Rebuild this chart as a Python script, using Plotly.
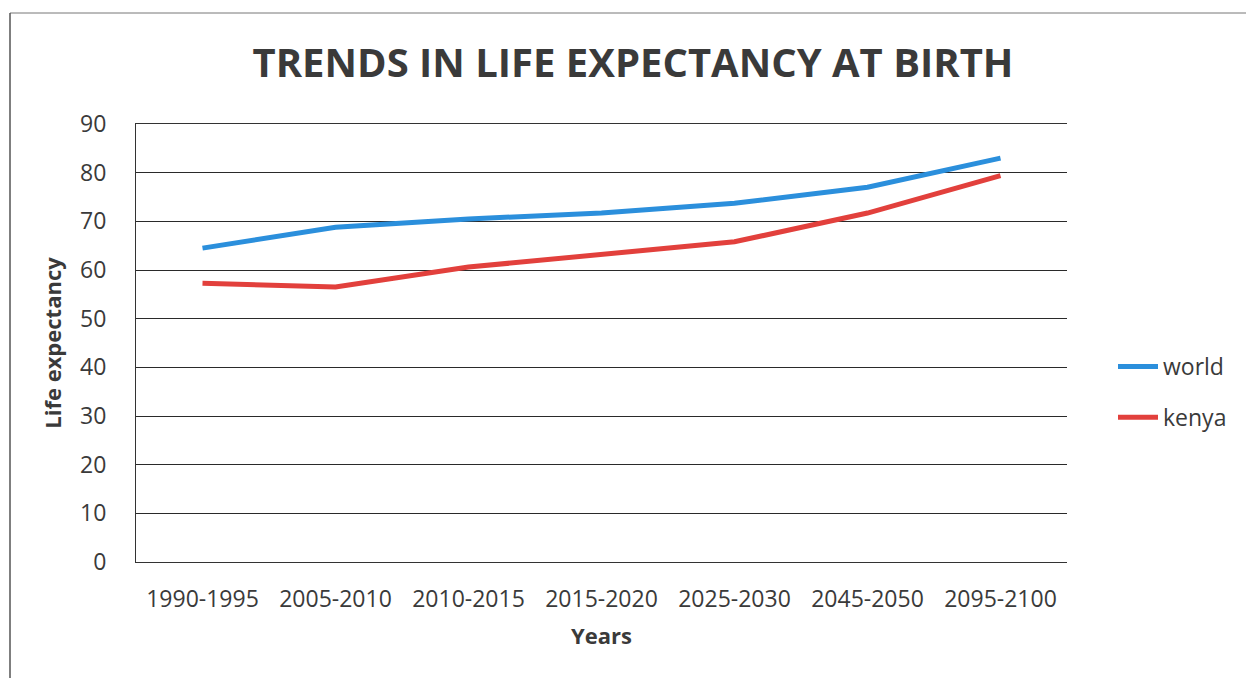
import plotly.graph_objects as go

categories = ["1990-1995", "2005-2010", "2010-2015", "2015-2020", "2025-2030", "2045-2050", "2095-2100"]
world = [64.5, 68.8, 70.5, 71.7, 73.7, 77.0, 83.0]
kenya = [57.3, 56.5, 60.6, 63.2, 65.8, 71.7, 79.4]

W, H = 1246, 678
L, R, T, B = 136, 179, 124, 116
FONT = "Open Sans, Lato, sans-serif"
TXT = "#3a3a3a"

fig = go.Figure()
fig.add_trace(go.Scatter(x=categories, y=world, name="world", mode="lines", legendgroup="w",
                         line=dict(color="#2b8fdc", width=5)))
fig.add_trace(go.Scatter(x=categories, y=kenya, name="kenya", mode="lines", legendgroup="k",
                         line=dict(color="#e2403c", width=5)))

def px_x(p):
    return (p - L) / (W - L - R)

def px_y(p):
    return (H - B - p) / (H - T - B)

fig.update_layout(
    width=W, height=H,
    margin=dict(l=L, r=R, t=T, b=B),
    paper_bgcolor="white", plot_bgcolor="white",
    font=dict(family=FONT, color=TXT, size=23),
    title=dict(text="<b>TRENDS IN LIFE EXPECTANCY AT BIRTH</b>",
               x=633 / W, xanchor="center", y=1 - 63 / H, yanchor="middle",
               font=dict(size=40, color=TXT, family=FONT)),
    showlegend=True,
    legend=dict(x=px_x(1113), y=px_y(392), xanchor="left", yanchor="middle",
                font=dict(size=23, color=TXT, family=FONT),
                tracegroupgap=18, itemwidth=40, bgcolor="rgba(0,0,0,0)"),
    xaxis=dict(type="category", showgrid=False, showline=True, linecolor="#333",
               linewidth=1, mirror=True, ticks="", tickfont=dict(size=23), ticklabelstandoff=16,
               title=dict(text="<b>Years</b>", font=dict(size=22), standoff=16),
               range=[-0.5, 6.5], zeroline=False),
    yaxis=dict(range=[0, 90], tickvals=list(range(0, 91, 10)), showgrid=True,
               gridcolor="#2a2a2a", gridwidth=1, showline=True, linecolor="#333",
               linewidth=1, ticks="", tickfont=dict(size=23), ticklabelstandoff=24,
               title=dict(text="<b>Life expectancy</b>", font=dict(size=22), standoff=12),
               zeroline=False),
    shapes=[
        dict(type="line", xref="paper", yref="paper",
             x0=px_x(10), x1=px_x(1246), y0=px_y(13), y1=px_y(13),
             line=dict(color="#777", width=1)),
        dict(type="line", xref="paper", yref="paper",
             x0=px_x(10), x1=px_x(10), y0=px_y(13), y1=px_y(678),
             line=dict(color="#555", width=1.5)),
    ],
)

fig.write_html("out.html", config={"displayModeBar": False},
               post_script="document.body.style.margin='0px';document.body.style.overflow='hidden';")
